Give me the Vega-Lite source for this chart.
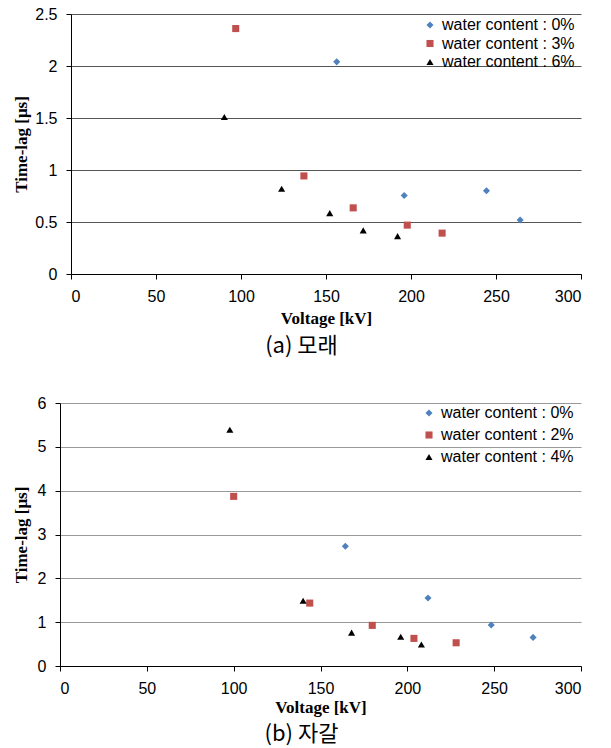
{
  "$schema": "https://vega.github.io/schema/vega-lite/v6.json",
  "padding": {"left": 12, "top": 6, "right": 5, "bottom": 5},
  "background": "white",
  "spacing": 38,
  "config": {
    "view": {"stroke": null},
    "axis": {
      "labelFont": "Liberation Sans",
      "labelFontSize": 16,
      "labelColor": "black",
      "titleFont": "Liberation Serif",
      "titleFontSize": 17,
      "titleFontWeight": "bold",
      "titleColor": "black",
      "domainColor": "black",
      "tickColor": "black",
      "tickSize": 5
    },
    "legend": {
      "labelFont": "Liberation Sans",
      "labelFontSize": 16,
      "labelColor": "black",
      "symbolSize": 50,
      "symbolStrokeWidth": 0
    }
  },
  "datasets": {
    "sand": [
      {"voltage": 156.3, "timelag": 2.04, "series": "water content : 0%"},
      {"voltage": 196.0, "timelag": 0.755, "series": "water content : 0%"},
      {"voltage": 244.4, "timelag": 0.80, "series": "water content : 0%"},
      {"voltage": 264.2, "timelag": 0.52, "series": "water content : 0%"},
      {"voltage": 96.9, "timelag": 2.36, "series": "water content : 3%"},
      {"voltage": 137.0, "timelag": 0.943, "series": "water content : 3%"},
      {"voltage": 166.0, "timelag": 0.636, "series": "water content : 3%"},
      {"voltage": 197.8, "timelag": 0.47, "series": "water content : 3%"},
      {"voltage": 218.3, "timelag": 0.393, "series": "water content : 3%"},
      {"voltage": 90.2, "timelag": 1.51, "series": "water content : 6%"},
      {"voltage": 123.9, "timelag": 0.82, "series": "water content : 6%"},
      {"voltage": 152.2, "timelag": 0.585, "series": "water content : 6%"},
      {"voltage": 171.9, "timelag": 0.42, "series": "water content : 6%"},
      {"voltage": 192.1, "timelag": 0.364, "series": "water content : 6%"}
    ],
    "gravel": [
      {"voltage": 164.3, "timelag": 2.73, "series": "water content : 0%"},
      {"voltage": 211.9, "timelag": 1.55, "series": "water content : 0%"},
      {"voltage": 248.3, "timelag": 0.934, "series": "water content : 0%"},
      {"voltage": 272.4, "timelag": 0.653, "series": "water content : 0%"},
      {"voltage": 100.0, "timelag": 3.87, "series": "water content : 2%"},
      {"voltage": 143.8, "timelag": 1.435, "series": "water content : 2%"},
      {"voltage": 179.8, "timelag": 0.927, "series": "water content : 2%"},
      {"voltage": 203.8, "timelag": 0.63, "series": "water content : 2%"},
      {"voltage": 228.1, "timelag": 0.53, "series": "water content : 2%"},
      {"voltage": 97.8, "timelag": 5.39, "series": "water content : 4%"},
      {"voltage": 140.0, "timelag": 1.49, "series": "water content : 4%"},
      {"voltage": 167.9, "timelag": 0.76, "series": "water content : 4%"},
      {"voltage": 196.2, "timelag": 0.668, "series": "water content : 4%"},
      {"voltage": 208.1, "timelag": 0.49, "series": "water content : 4%"}
    ]
  },
  "resolve": {
    "scale": {"color": "independent", "shape": "independent"},
    "legend": {"color": "independent", "shape": "independent"}
  },
  "vconcat": [
    {
      "width": 521,
      "height": 260,
      "data": {"name": "sand"},
      "title": {"text": "(a)  모래", "orient": "bottom", "offset": 10, "dx": -19, "font": "Noto Sans CJK KR", "fontSize": 22, "fontWeight": "normal", "color": "black"},
      "mark": {"type": "point", "filled": true, "opacity": 1, "size": 50},
      "encoding": {
        "x": {
          "field": "voltage", "type": "quantitative",
          "scale": {"domain": [0, 300], "nice": false, "range": [11, 521]},
          "axis": {"title": "Voltage [kV]", "grid": false, "values": [0, 50, 100, 150, 200, 250, 300], "labelPadding": 9, "titlePadding": 6}
        },
        "y": {
          "field": "timelag", "type": "quantitative",
          "scale": {"domain": [0, 2.5], "nice": false},
          "axis": {"title": "Time-lag [μs]", "values": [0, 0.5, 1, 1.5, 2, 2.5], "format": "~g", "offset": -11, "gridColor": "#555555", "gridOpacity": 1, "labelPadding": 9, "titlePadding": 4}
        },
        "color": {
          "field": "series", "type": "nominal",
          "scale": {"domain": ["water content : 0%", "water content : 3%", "water content : 6%"], "range": ["#4F81BD", "#C0504D", "#000000"]},
          "legend": {"title": null, "orient": "none", "legendX": 362, "legendY": 3, "rowPadding": 2.5}
        },
        "shape": {
          "field": "series", "type": "nominal",
          "scale": {"domain": ["water content : 0%", "water content : 3%", "water content : 6%"], "range": ["diamond", "square", "triangle-up"]},
          "legend": {"title": null, "orient": "none", "legendX": 362, "legendY": 3, "rowPadding": 2.5}
        }
      }
    },
    {
      "width": 521,
      "height": 263,
      "data": {"name": "gravel"},
      "title": {"text": "(b)  자갈", "orient": "bottom", "offset": 9, "dx": -19, "font": "Noto Sans CJK KR", "fontSize": 22, "fontWeight": "normal", "color": "black"},
      "mark": {"type": "point", "filled": true, "opacity": 1, "size": 50},
      "encoding": {
        "x": {
          "field": "voltage", "type": "quantitative",
          "scale": {"domain": [0, 300], "nice": false},
          "axis": {"title": "Voltage [kV]", "grid": false, "values": [0, 50, 100, 150, 200, 250, 300], "labelPadding": 9, "titlePadding": 3}
        },
        "y": {
          "field": "timelag", "type": "quantitative",
          "scale": {"domain": [0, 6], "nice": false},
          "axis": {"title": "Time-lag [μs]", "values": [0, 1, 2, 3, 4, 5, 6], "format": "~g", "gridColor": "#999999", "gridOpacity": 1, "labelPadding": 9, "titlePadding": 7}
        },
        "color": {
          "field": "series", "type": "nominal",
          "scale": {"domain": ["water content : 0%", "water content : 2%", "water content : 4%"], "range": ["#4F81BD", "#C0504D", "#000000"]},
          "legend": {"title": null, "orient": "none", "legendX": 361, "legendY": 2, "rowPadding": 6}
        },
        "shape": {
          "field": "series", "type": "nominal",
          "scale": {"domain": ["water content : 0%", "water content : 2%", "water content : 4%"], "range": ["diamond", "square", "triangle-up"]},
          "legend": {"title": null, "orient": "none", "legendX": 361, "legendY": 2, "rowPadding": 6}
        }
      }
    }
  ]
}
